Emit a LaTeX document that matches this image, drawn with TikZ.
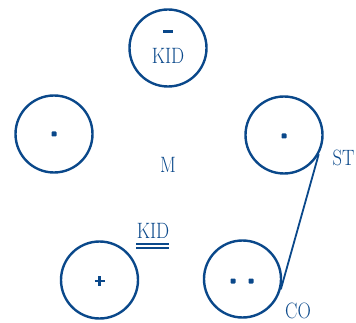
\documentclass[tikz,border=0pt]{standalone}
\usepackage{fontspec}
\usetikzlibrary{calc}
\definecolor{ink}{RGB}{10,72,138}
\newcommand{\tall}[1]{\scalebox{1}[1.2]{#1}}
\begin{document}
\begin{tikzpicture}[x=1pt,y=-1pt,
  ring/.style={circle,draw=ink,line width=2.4pt,minimum size=77pt,inner sep=0pt},
  lbl/.style={text=ink,font=\fontsize{18.5}{21}\selectfont,inner sep=0pt},
  dotmark/.style={fill=ink,rounded corners=0.8pt},
  conn/.style={draw=ink,line width=1.8pt}]
\useasboundingbox (0,0) rectangle (356,323);
\node[ring] (kid) at (168,48) {};
\node[ring] (l) at (54,134) {};
\node[ring] (st) at (284,135) {};
\node[ring] (plus) at (99.5,280) {};
\node[ring] (co) at (242.5,279) {};
% marks
\fill[ink] (163,30.5) rectangle (173,33.5);
\node[lbl] (kidtxt) at (168,55.5) {\tall{KID}};
\fill[dotmark] (51.5,131.5) rectangle (56.5,136.5);
\fill[dotmark] (281.5,133.5) rectangle (286.5,138.5);
\draw[ink,line width=2.4pt] (94.5,281) -- (104.5,281) (99.5,276) -- (99.5,286);
\fill[dotmark] (230.5,278.5) rectangle (235.5,283.5);
\fill[dotmark] (248.5,278.5) rectangle (253.5,283.5);
% labels
\node[lbl] (m) at (168,164.5) {\tall{M}};
\node[lbl] (kid2) at (153,231) {\tall{KID}};
\draw[ink,line width=1.4pt] (136,244) -- (169,244) (136,248) -- (169,248);
\node[lbl] (stl) at (343.5,158) {\tall{ST}};
\node[lbl] (col) at (298,310.5) {\tall{CO}};
% connector
\draw[conn] (st.-29) -- (co.-15);
\end{tikzpicture}
\end{document}
